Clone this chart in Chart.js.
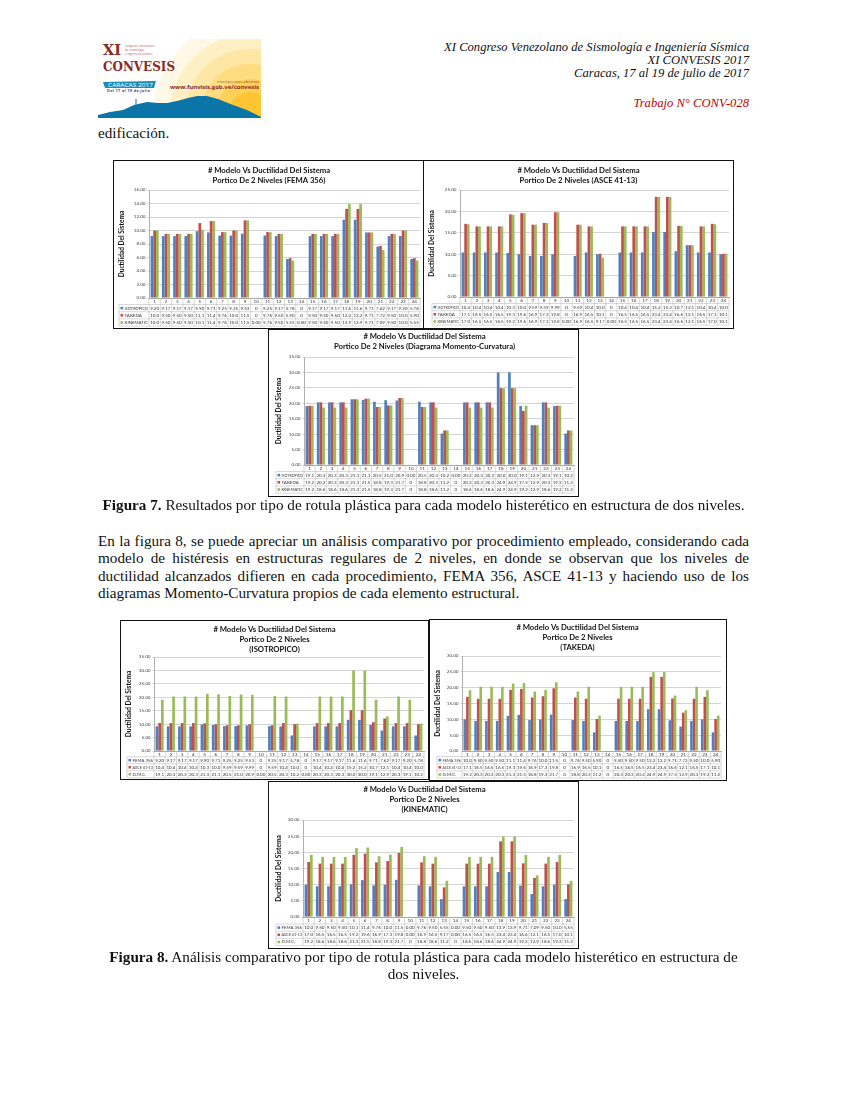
<!DOCTYPE html>
<html lang="es">
<head>
<meta charset="utf-8">
<title>XI CONVESIS</title>
<script src="https://cdn.jsdelivr.net/npm/chart.js@4"></script>
<style>
html, body { margin: 0; padding: 0; background: #fff; }
body { width: 847px; height: 1095px; position: relative; overflow: hidden; font-family: "Liberation Serif", serif; color: #111; }
.txt { position: absolute; white-space: nowrap; }
.hdr { right: 98px; font-style: italic; font-size: 12.6px; line-height: 13px; text-align: right; }
.cap { left: 98px; width: 651px; text-align: center; font-size: 15.2px; line-height: 17px; white-space: normal; }
.para { left: 98px; width: 651px; font-size: 15.2px; line-height: 17.4px; text-align: justify; white-space: normal; }
.box { position: absolute; box-sizing: border-box; background: #fff; border: 1px solid #111; }
.box canvas { position: absolute; left: 0; top: 0; filter: blur(0.35px); }
#logo { position: absolute; left: 98px; top: 39px; }
</style>
</head>
<body>

<svg id="logo" width="163" height="79" viewBox="98 39 163 79">
  <defs><clipPath id="lc"><rect x="98" y="39" width="163" height="79"/></clipPath></defs>
  <g clip-path="url(#lc)">
    <circle cx="250" cy="114" r="96" fill="#fff8e6"/>
    <circle cx="250" cy="114" r="80" fill="#ffefc4"/>
    <circle cx="250" cy="114" r="65" fill="#fee6a4"/>
    <circle cx="250" cy="114" r="50" fill="#fedc80"/>
    <circle cx="250" cy="114" r="35" fill="#fdd05a"/>
    <circle cx="250" cy="114" r="22" fill="#fcc531"/>
    <polygon fill="#0b75a8" points="98,118 98,115 110,112 123,110 134,105 147,102 158,103 167,103 177,101 188,98 197,96 207,96 218,99 233,105 247,110 261,117 261,118"/>
    <rect x="135.5" y="99" width="1" height="7" fill="#0b75a8"/>
  </g>
  <text x="103" y="55" font-family="DejaVu Serif" font-weight="bold" font-size="14" fill="#8c2a26" textLength="18" lengthAdjust="spacingAndGlyphs">XI</text>
  <text x="103" y="71" font-family="DejaVu Serif" font-weight="bold" font-size="13" fill="#8c2a26" textLength="72" lengthAdjust="spacingAndGlyphs">CONVESIS</text>
  <g font-family="Open Sans" font-size="3" fill="#b0555a">
    <text x="125" y="47">congreso venezolano</text>
    <text x="125" y="50.5">de sismología</text>
    <text x="125" y="54.5">e ingeniería sísmica</text>
  </g>
  <polygon fill="#1d8db5" points="103,82 156,81 154,88 105,88"/>
  <text x="108" y="87" font-family="Open Sans" font-size="6" fill="#fff" textLength="45" lengthAdjust="spacingAndGlyphs">CARACAS 2017</text>
  <text x="107" y="91.5" font-family="Open Sans" font-weight="bold" font-size="3.8" fill="#1a4f7a" textLength="43">Del 17 al 19 de julio</text>
  <text x="217" y="83" font-family="Open Sans" font-size="3.6" fill="#8c3a26" textLength="42">inscripciones abiertas</text>
  <text x="170" y="89" font-family="Open Sans" font-weight="bold" font-size="5.6" fill="#8c2a26" textLength="89" lengthAdjust="spacingAndGlyphs">www.funvisis.gob.ve/convesis</text>
</svg>

<div class="txt hdr" style="top:41px">XI Congreso Venezolano de Sismología e Ingeniería Sísmica<br>XI CONVESIS 2017<br>Caracas, 17 al 19 de julio de 2017</div>
<div class="txt hdr" style="top:97px;color:#c00000">Trabajo N° CONV-028</div>
<div class="txt" style="left:98px;top:124px;font-size:15.2px">edificación.</div>

<div class="box" style="left:113px;top:160px;width:311px;height:169px"><canvas id="c1"></canvas></div>
<div class="box" style="left:423px;top:160px;width:311px;height:169px"><canvas id="c2"></canvas></div>
<div class="box" style="left:268px;top:329px;width:311px;height:168px"><canvas id="c3"></canvas></div>

<div class="txt cap" style="top:496px"><b>Figura 7.</b> Resultados por tipo de rotula plástica para cada modelo histerético en estructura de dos niveles.</div>
<div class="txt para" style="top:532px">En la figura 8, se puede apreciar un análisis comparativo por procedimiento empleado, considerando cada modelo de histéresis en estructuras regulares de 2 niveles, en donde se observan que los niveles de ductilidad alcanzados difieren en cada procedimiento, FEMA 356, ASCE 41-13 y haciendo uso de los diagramas Momento-Curvatura propios de cada elemento estructural.</div>

<div class="box" style="left:120px;top:620px;width:309px;height:160px"><canvas id="c4"></canvas></div>
<div class="box" style="left:429px;top:619px;width:298px;height:162px"><canvas id="c5"></canvas></div>
<div class="box" style="left:268px;top:781px;width:311px;height:168px"><canvas id="c6"></canvas></div>

<div class="txt cap" style="top:948px"><b>Figura 8.</b> Análisis comparativo por tipo de rotula plástica para cada modelo histerético en estructura de<br>dos niveles.</div>

<script>
// categories
const modelos = ['1','2','3','4','5','6','7','8','9','10','11','12','13','14','15','16','17','18','19','20','21','22','23','24'];

// FEMA 356
const femaIso = [9.20,9.17,9.17,9.17,9.90,9.71,9.25,9.25,9.53,0,9.25,9.17,5.78,0,9.17,9.17,9.17,11.6,11.6,9.71,7.62,9.17,9.20,5.78];
const femaTak = [10.0,9.50,9.50,9.50,11.1,11.4,9.76,10.0,11.5,0,9.76,9.50,5.90,0,9.50,9.50,9.50,13.2,13.2,9.71,7.72,9.50,10.0,5.90];
const femaKin = [10.0,9.50,9.50,9.50,10.1,11.4,9.76,10.0,11.5,0,9.76,9.50,5.55,0,9.50,9.50,9.50,13.9,13.9,9.71,7.09,9.50,10.0,5.55];

// ASCE 41-13
const asceIso = [10.4,10.4,10.4,10.4,10.3,10.0,9.59,9.59,9.99,0,9.59,10.4,10.0,0,10.4,10.4,10.4,15.2,15.2,10.7,12.1,10.4,10.4,10.0];
const asceTak = [17.1,16.5,16.5,16.5,19.3,19.6,16.9,17.3,19.8,0,16.9,16.5,10.1,0,16.5,16.5,16.5,23.4,23.4,16.6,12.1,16.5,17.1,10.1];
const asceKin = [17.0,16.5,16.5,16.5,19.2,19.6,16.9,17.3,19.8,0,16.9,16.5,9.17,0,16.5,16.5,16.5,23.4,23.4,16.6,12.1,16.5,17.0,10.1];

// Diagrama Momento-Curvatura
const dmcIso = [19.1,20.3,20.3,20.3,21.3,21.1,20.5,21.0,20.9,0,20.5,20.3,10.2,0,20.3,20.3,20.3,30.0,30.0,19.1,12.9,20.3,19.1,10.2];
const dmcTak = [19.2,20.3,20.3,20.3,21.3,21.5,18.8,19.3,21.7,0,18.8,20.3,11.2,0,20.3,20.3,20.3,24.9,24.9,17.5,12.9,20.3,19.2,11.2];
const dmcKin = [19.2,18.6,18.6,18.6,21.3,21.5,18.8,19.3,21.7,0,18.8,18.6,11.2,0,18.6,18.6,18.6,24.9,24.9,19.2,12.9,18.6,19.2,11.2];

const azul = '#4f81bd', rojo = '#c0504d', verde = '#9bbb59';
const fontFam = 'Lato, "Open Sans", sans-serif';

// the data table under the plot, aligned with the category scale
const dataTable = {
    id: 'dataTable',
    afterDraw(chart, args, opts) {
        const ctx = chart.ctx;
        const x = chart.scales.x;
        const { left, right, bottom } = chart.chartArea;
        const top0 = bottom + opts.headH;
        const n = chart.data.labels.length;
        const step = (right - left) / n;

        ctx.save();
        ctx.strokeStyle = '#bdbdbd';
        ctx.lineWidth = 0.6;
        ctx.beginPath();
        for (let i = 0; i <= n; i++) {
            ctx.moveTo(left + i * step, bottom);
            ctx.lineTo(left + i * step, top0 + 3 * opts.rowH);
        }
        ctx.moveTo(opts.tableLeft, top0);
        ctx.lineTo(opts.tableLeft, top0 + 3 * opts.rowH);
        for (let r = 0; r <= 3; r++) {
            ctx.moveTo(opts.tableLeft, top0 + r * opts.rowH);
            ctx.lineTo(right, top0 + r * opts.rowH);
        }
        ctx.stroke();

        ctx.font = '4.5px ' + fontFam;
        ctx.textBaseline = 'middle';
        chart.data.datasets.forEach((ds, r) => {
            const y = top0 + (r + 0.5) * opts.rowH;
            ctx.fillStyle = ds.backgroundColor;
            ctx.fillRect(opts.tableLeft + 1.5, y - 1.3, 2.6, 2.6);
            ctx.fillStyle = '#333';
            ctx.textAlign = 'left';
            // squeeze long series names into the first column
            ctx.fillText(ds.label, opts.tableLeft + 5.5, y, left - opts.tableLeft - 6.5);
            ctx.textAlign = 'center';
            ds.data.forEach((v, i) => {
                const txt = v === 0 ? ds.zeroText : v.toPrecision(3);
                ctx.fillText(txt, x.getPixelForValue(i), y);
            });
        });
        ctx.restore();
    }
};

function drawChart(id, titleLines, series, maxY, stepY, g) {
    const el = document.getElementById(id);
    const W = el.parentElement.clientWidth, H = el.parentElement.clientHeight;
    el.style.width = W + 'px';
    el.style.height = H + 'px';
    const lh = 10;
    const tableH = g.headH + 3 * g.rowH;
    return new Chart(el, {
        type: 'bar',
        data: {
            labels: modelos,
            datasets: series.map(s => ({
                label: s.label,
                data: s.data,
                zeroText: s.zero,
                backgroundColor: s.color,
                categoryPercentage: 0.72,
                barPercentage: 1
            }))
        },
        options: {
            responsive: false,
            animation: false,
            layout: { padding: { left: g.axisLeft, right: W - g.plotRight, top: 0, bottom: H - g.plotBottom - tableH } },
            plugins: {
                legend: { display: false },
                tooltip: { enabled: false },
                title: {
                    display: true,
                    text: titleLines,
                    color: '#111',
                    font: { family: fontFam, size: 7.7, weight: 'bold', lineHeight: lh / 7.7 },
                    padding: { top: g.titleTop, bottom: g.plotTop - g.titleTop - titleLines.length * lh }
                },
                dataTable: { headH: g.headH, rowH: g.rowH, tableLeft: g.tableLeft }
            },
            scales: {
                x: {
                    afterFit(scale) { scale.height = tableH; },
                    grid: { display: false, drawTicks: false },
                    border: { color: '#9a9a9a', width: 0.8 },
                    ticks: { color: '#333', font: { family: fontFam, size: 4.6 }, padding: 1, autoSkip: false, maxRotation: 0 }
                },
                y: {
                    min: 0,
                    max: maxY,
                    afterFit(scale) { scale.width = g.plotLeft - g.axisLeft; },
                    grid: { color: '#cfcfcf', lineWidth: 0.9, tickLength: 1.5 },
                    border: { color: '#9a9a9a', width: 0.8 },
                    title: { display: true, text: 'Ductilidad Del Sistema', color: '#111', font: { family: fontFam, size: 6.6, weight: 'bold' }, padding: 0 },
                    ticks: { color: '#444', font: { family: fontFam, size: 4.6 }, padding: 2, stepSize: stepY, callback: v => v.toFixed(2) }
                }
            }
        },
        plugins: [dataTable]
    });
}

const row = (label, data, color, zero) => ({ label, data, color, zero });

// Figura 7
drawChart('c1', ['# Modelo Vs Ductilidad Del Sistema', 'Portico De 2 Niveles (FEMA 356)'],
    [row('ISOTROPICO', femaIso, azul, '0'), row('TAKEDA', femaTak, rojo, '0'), row('KINEMATIC', femaKin, verde, '0.00')],
    16, 2, { axisLeft: 4, plotLeft: 35, plotRight: 306, plotTop: 29, plotBottom: 137, titleTop: 5, headH: 6.5, rowH: 7.2, tableLeft: 5 });
drawChart('c2', ['# Modelo Vs Ductilidad Del Sistema', 'Portico De 2 Niveles (ASCE 41-13)'],
    [row('ISOTROPICO', asceIso, azul, '0'), row('TAKEDA', asceTak, rojo, '0'), row('KINEMATIC', asceKin, verde, '0.00')],
    25, 5, { axisLeft: 4, plotLeft: 36, plotRight: 305, plotTop: 29, plotBottom: 136, titleTop: 5, headH: 6.5, rowH: 7.2, tableLeft: 8 });
drawChart('c3', ['# Modelo Vs Ductilidad Del Sistema', 'Portico De 2 Niveles (Diagrama Momento-Curvatura)'],
    [row('ISOTROPICO', dmcIso, azul, '0.00'), row('TAKEDA', dmcTak, rojo, '0'), row('KINEMATIC', dmcKin, verde, '0')],
    35, 5, { axisLeft: 6, plotLeft: 35, plotRight: 305, plotTop: 27, plotBottom: 135, titleTop: 2, headH: 6.5, rowH: 7.2, tableLeft: 7 });

// Figura 8
drawChart('c4', ['# Modelo Vs Ductilidad Del Sistema', 'Portico De 2 Niveles', '(ISOTROPICO)'],
    [row('FEMA 356', femaIso, azul, '0'), row('ASCE 41-13', asceIso, rojo, '0'), row('D.M.C.', dmcIso, verde, '0.00')],
    35, 5, { axisLeft: 4, plotLeft: 33, plotRight: 303, plotTop: 36, plotBottom: 130, titleTop: 3.5, headH: 5.7, rowH: 7, tableLeft: 6 });
drawChart('c5', ['# Modelo Vs Ductilidad Del Sistema', 'Portico De 2 Niveles', '(TAKEDA)'],
    [row('FEMA 356', femaTak, azul, '0'), row('ASCE 41-13', asceTak, rojo, '0'), row('D.M.C.', dmcTak, verde, '0')],
    30, 5, { axisLeft: 4, plotLeft: 32, plotRight: 291, plotTop: 36, plotBottom: 131, titleTop: 3, headH: 5.5, rowH: 7.2, tableLeft: 7 });
drawChart('c6', ['# Modelo Vs Ductilidad Del Sistema', 'Portico De 2 Niveles', '(KINEMATIC)'],
    [row('FEMA 356', femaKin, azul, '0.00'), row('ASCE 41-13', asceKin, rojo, '0.00'), row('D.M.C.', dmcKin, verde, '0')],
    30, 5, { axisLeft: 6, plotLeft: 34, plotRight: 305, plotTop: 38, plotBottom: 135, titleTop: 3, headH: 7, rowH: 7.2, tableLeft: 7 });
</script>
</body>
</html>
